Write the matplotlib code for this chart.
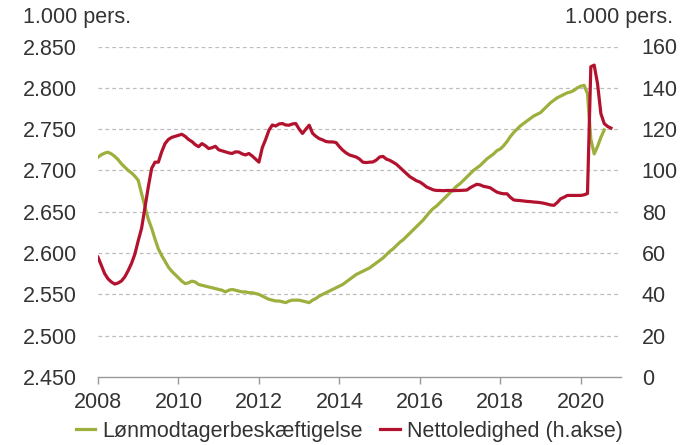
import matplotlib
matplotlib.use("Agg")
import matplotlib.pyplot as plt
import numpy as np

plt.rcParams['font.family'] = ['Liberation Sans', 'DejaVu Sans']

# Lønmodtagerbeskæftigelse (1.000 pers.), monthly Jan 2008 - Aug 2020
employment = [
    2.716, 2.719, 2.721, 2.722, 2.720, 2.717, 2.713, 2.708, 2.704, 2.700, 2.697, 2.693,  # 2008
    2.688, 2.672, 2.656, 2.641, 2.630, 2.617, 2.605, 2.597, 2.590, 2.583, 2.578, 2.574,  # 2009
    2.570, 2.566, 2.563, 2.564, 2.566, 2.565, 2.562, 2.561, 2.560, 2.559, 2.558, 2.557,  # 2010
    2.556, 2.555, 2.553, 2.555, 2.556, 2.555, 2.554, 2.553, 2.553, 2.552, 2.552, 2.551,  # 2011
    2.550, 2.548, 2.546, 2.544, 2.543, 2.542, 2.542, 2.541, 2.540, 2.542, 2.543, 2.543,  # 2012
    2.543, 2.542, 2.541, 2.540, 2.543, 2.545, 2.548, 2.550, 2.552, 2.554, 2.556, 2.558,  # 2013
    2.560, 2.562, 2.565, 2.568, 2.571, 2.574, 2.576, 2.578, 2.580, 2.582, 2.585, 2.588,  # 2014
    2.591, 2.594, 2.598, 2.602, 2.605, 2.609, 2.613, 2.616, 2.620, 2.624, 2.628, 2.632,  # 2015
    2.636, 2.640, 2.645, 2.650, 2.654, 2.657, 2.661, 2.665, 2.669, 2.673, 2.677, 2.681,  # 2016
    2.684, 2.688, 2.692, 2.696, 2.700, 2.703, 2.706, 2.710, 2.714, 2.717, 2.720, 2.724,  # 2017
    2.726, 2.730, 2.735, 2.741, 2.746, 2.750, 2.754, 2.757, 2.760, 2.763, 2.766, 2.768,  # 2018
    2.770, 2.774, 2.778, 2.782, 2.785, 2.788, 2.790, 2.792, 2.794, 2.795, 2.797, 2.800,  # 2019
    2.802, 2.803, 2.793, 2.738, 2.720, 2.729, 2.740, 2.749,                              # 2020
]

# Nettoledighed (1.000 pers., right axis), monthly Jan 2008 - Oct 2020
unemployment = [
    58.0, 54.0, 50.0, 47.5, 46.0, 45.0, 45.5, 46.5, 48.5, 51.5, 55.0, 59.5,          # 2008
    66.0, 72.0, 82.0, 92.0, 101.0, 104.0, 104.0, 109.0, 113.0, 115.0, 116.0, 116.5,  # 2009
    117.0, 117.5, 116.5, 115.0, 114.0, 112.5, 111.5, 113.0, 112.0, 110.6, 111.0, 111.7,  # 2010
    110.0, 109.5, 109.0, 108.5, 108.2, 109.0, 108.9, 108.0, 107.5, 108.2, 107.0, 105.5,  # 2011
    104.0, 111.0, 115.0, 119.5, 122.0, 121.5, 122.5, 122.7, 122.0, 121.9, 122.5, 122.7,  # 2012
    120.0, 117.9, 120.0, 121.9, 118.0, 116.5, 115.4, 114.8, 114.0, 113.8, 113.8, 113.5,  # 2013
    111.5, 109.8, 108.5, 107.5, 107.0, 106.5, 105.5, 104.0, 103.8, 104.0, 104.1, 105.0,  # 2014
    106.5, 106.8, 105.5, 104.9, 104.0, 103.0, 101.5, 100.0, 98.5, 97.0, 96.0, 95.0,      # 2015
    94.4, 93.3, 92.0, 91.3, 90.6, 90.3, 90.3, 90.2, 90.3, 90.3, 90.2, 90.3,              # 2016
    90.3, 90.4, 90.5, 91.6, 92.5, 93.3, 93.0, 92.3, 92.0, 91.6, 90.5, 89.5,              # 2017
    89.0, 88.7, 88.7, 87.0, 85.7, 85.5, 85.4, 85.2, 85.0, 84.9, 84.7, 84.6,              # 2018
    84.4, 84.1, 83.7, 83.3, 83.1, 84.5, 86.3, 87.0, 87.9, 87.9, 87.9, 87.9,              # 2019
    87.9, 88.2, 88.8, 150.2, 151.0, 142.0, 127.5, 122.7, 121.3, 120.5,                   # 2020
]

left_ticks = [2.450, 2.500, 2.550, 2.600, 2.650, 2.700, 2.750, 2.800, 2.850]
left_labels = ["2.450", "2.500", "2.550", "2.600", "2.650", "2.700", "2.750", "2.800", "2.850"]
right_ticks = [0, 20, 40, 60, 80, 100, 120, 140, 160]
year_ticks = [2008, 2010, 2012, 2014, 2016, 2018, 2020]

x_emp = 2008 + np.arange(len(employment)) / 12.0
x_unemp = 2008 + np.arange(len(unemployment)) / 12.0

GREEN = '#9DAF3D'
RED = '#B3122F'
TXT = '#333333'
GRID = '#BDBDBD'
FS = 15.5

fig = plt.figure(figsize=(6.82, 4.45), dpi=100)
ax = fig.add_axes([98/682, 1-377/445, (621-98)/682, (377-46.5)/445])
ax2 = ax.twinx()

ln1, = ax.plot(x_emp, employment, color=GREEN, lw=2.3, solid_joinstyle='round',
               label='Lønmodtagerbeskæftigelse')
ln2, = ax2.plot(x_unemp, unemployment, color=RED, lw=2.3, solid_joinstyle='round',
                label='Nettoledighed (h.akse)')

ax.set_xlim(2008, 2021)
ax.set_ylim(2.450, 2.850)
ax2.set_ylim(0, 160)

ax.set_yticks(left_ticks)
ax.set_yticklabels(left_labels)
ax2.set_yticks(right_ticks)
ax2.set_yticklabels([str(v) for v in right_ticks])
ax.set_xticks(year_ticks)
ax.set_xticklabels([str(y) for y in year_ticks])

for t in left_ticks[1:]:
    ax.axhline(t, color=GRID, lw=0.9, ls=(0, (3, 2.5)), zorder=0)

for a in (ax, ax2):
    for s in ('top', 'left', 'right', 'bottom'):
        a.spines[s].set_visible(False)
ax.spines['bottom'].set_visible(True)
ax.spines['bottom'].set_color('#999999')
ax.spines['bottom'].set_linewidth(1.0)

ax.tick_params(axis='y', length=0, pad=15, labelsize=FS, labelcolor=TXT)
ax2.tick_params(axis='y', length=0, pad=15, labelsize=FS, labelcolor=TXT)
ax.tick_params(axis='x', length=5, width=1.0, color='#999999', pad=6,
               labelsize=FS, labelcolor=TXT, direction='out')

fig.text(23/682, 1-17.5/445, '1.000 pers.', ha='left', va='center', fontsize=FS, color=TXT)
fig.text(673/682, 1-17.5/445, '1.000 pers.', ha='right', va='center', fontsize=FS, color=TXT)

fig.legend(handles=[ln1, ln2], loc='center', bbox_to_anchor=(0.5125, 1-431/445),
           ncol=2, frameon=False, fontsize=FS, handlelength=0.9, handletextpad=0.35,
           columnspacing=0.8, labelcolor=TXT, borderpad=0, borderaxespad=0)

fig.savefig('out.png', dpi=100)
